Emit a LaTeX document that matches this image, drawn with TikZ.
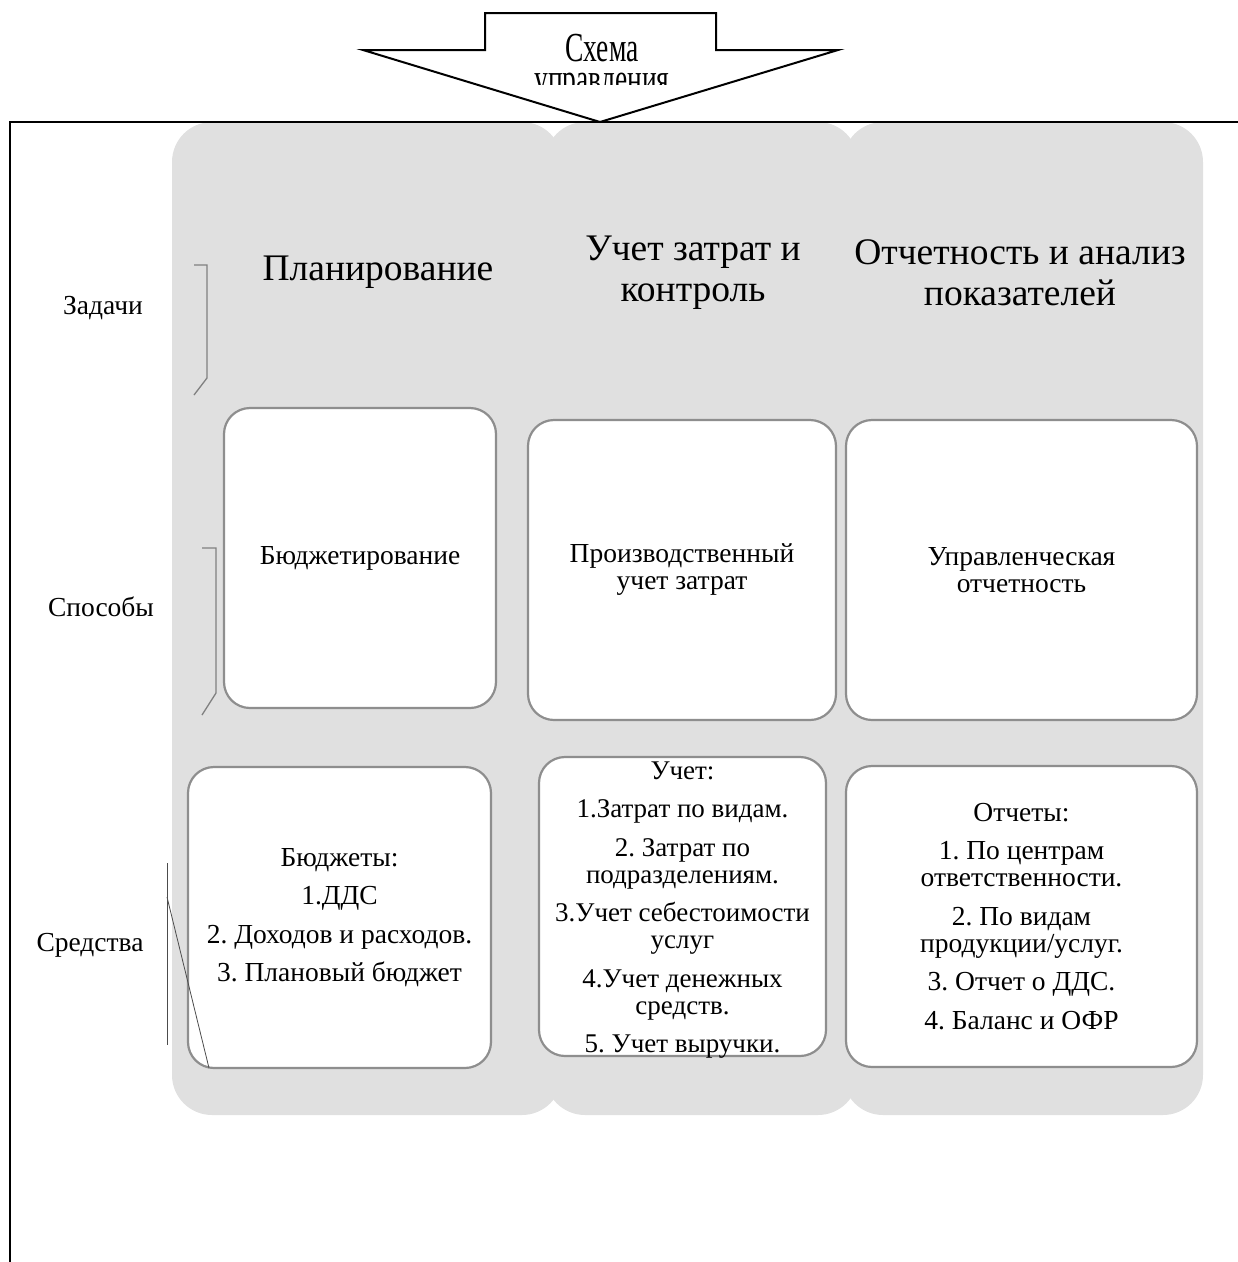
\documentclass[tikz,border=0pt]{standalone}
\usepackage{fontspec}
\setmainfont{Liberation Serif}
\definecolor{colgrey}{HTML}{E0E0E0}
\definecolor{boxline}{HTML}{8E8E8E}
\definecolor{brk}{HTML}{808080}
\begin{document}
\frenchspacing
\begin{tikzpicture}[x=1pt,y=-1pt,
  colbg/.style={fill=colgrey, rounded corners=40},
  card/.style={draw=boxline, line width=2.2pt, fill=white, rounded corners=26,
    inner sep=0pt, align=center, font=\fontsize{27.5}{27}\selectfont},
  head/.style={align=center, inner sep=0pt, font=\fontsize{37.5}{41}\selectfont},
  lbl/.style={inner sep=0pt, font=\fontsize{27.5}{30}\selectfont},
  bracket/.style={draw=brk, line width=1.3pt},
  thinbr/.style={draw=black!70, line width=0.8pt}]
\useasboundingbox (0,0) rectangle (1238,1262);
% grey columns
\fill[colbg] (172,122) rectangle (562,1115);
\fill[colbg] (545,122) rectangle (858,1115);
\fill[colbg] (843,122) rectangle (1203,1115);
% outer frame
\draw[line width=2pt] (10,1262) -- (10,122) -- (1238,122);
% top arrow
\draw[line width=2pt, fill=white] (485,13) -- (716,13) -- (716,50) -- (838,50)
  -- (600,122) -- (363,50) -- (485,50) -- cycle;
\begin{scope}
  \clip (480,16) rectangle (720,84);
  \node[anchor=base, inner sep=0pt, font=\fontsize{27.5}{21.3}\selectfont] (title) at (602,61)
    {\scalebox{1}[1.5]{\begin{tabular}[t]{@{}c@{}}Схема\\управления\end{tabular}}};
\end{scope}
% headers
\node[head] (h1) at (378,272) {Планирование};
\node[head] (h2) at (693,273) {Учет затрат и\\контроль};
\node[head] (h3) at (1020,273) {Отчетность и анализ\\показателей};
% side labels
\node[lbl] (zad) at (103,308) {Задачи};
\node[lbl] (spo) at (101,607) {Способы};
\node[lbl] (sre) at (90,945) {Средства};
% brackets
\draw[bracket] (194,265) -- (207,265) -- (207,378) -- (194,395);
\draw[bracket] (202,548) -- (216,548) -- (216,693) -- (202,715);
% cards row 2
\node[card, minimum width=272, minimum height=300] (b1) at (360,558) {Бюджетирование};
\node[card, minimum width=308, minimum height=300] (b2) at (682,570) {Производственный\\учет затрат};
\node[card, minimum width=351, minimum height=300] (b3) at (1021.5,570) {Управленческая\\отчетность};
% cards row 3
\node[card, minimum width=303, minimum height=301] (c1) at (339.5,917.5)
  {Бюджеты:\\[11.5pt]1.ДДС\\[11.5pt]2. Доходов и расходов.\\[11.5pt]3. Плановый бюджет};
\node[card, minimum width=287, minimum height=299] (c2) at (682.5,906.5) {};
\node[align=center, inner sep=0pt, font=\fontsize{27}{27}\selectfont] (c2t) at (682.5,910)
  {Учет:\\[11.5pt]1.Затрат по видам.\\[11.5pt]2. Затрат по\\подразделениям.\\[11.5pt]3.Учет себестоимости\\услуг\\[11.5pt]4.Учет денежных\\средств.\\[11.5pt]5. Учет выручки.};
\node[card, minimum width=351, minimum height=301] (c3) at (1021.5,916.5)
  {Отчеты:\\[11.5pt]1. По центрам\\ответственности.\\[11.5pt]2. По видам\\продукции/услуг.\\[11.5pt]3. Отчет о ДДС.\\[11.5pt]4. Баланс и ОФР};
% Sredstva bracket
\draw[thinbr] (167,863) -- (167,1045);
\draw[thinbr] (167,897) -- (209,1068);
\end{tikzpicture}
\end{document}
